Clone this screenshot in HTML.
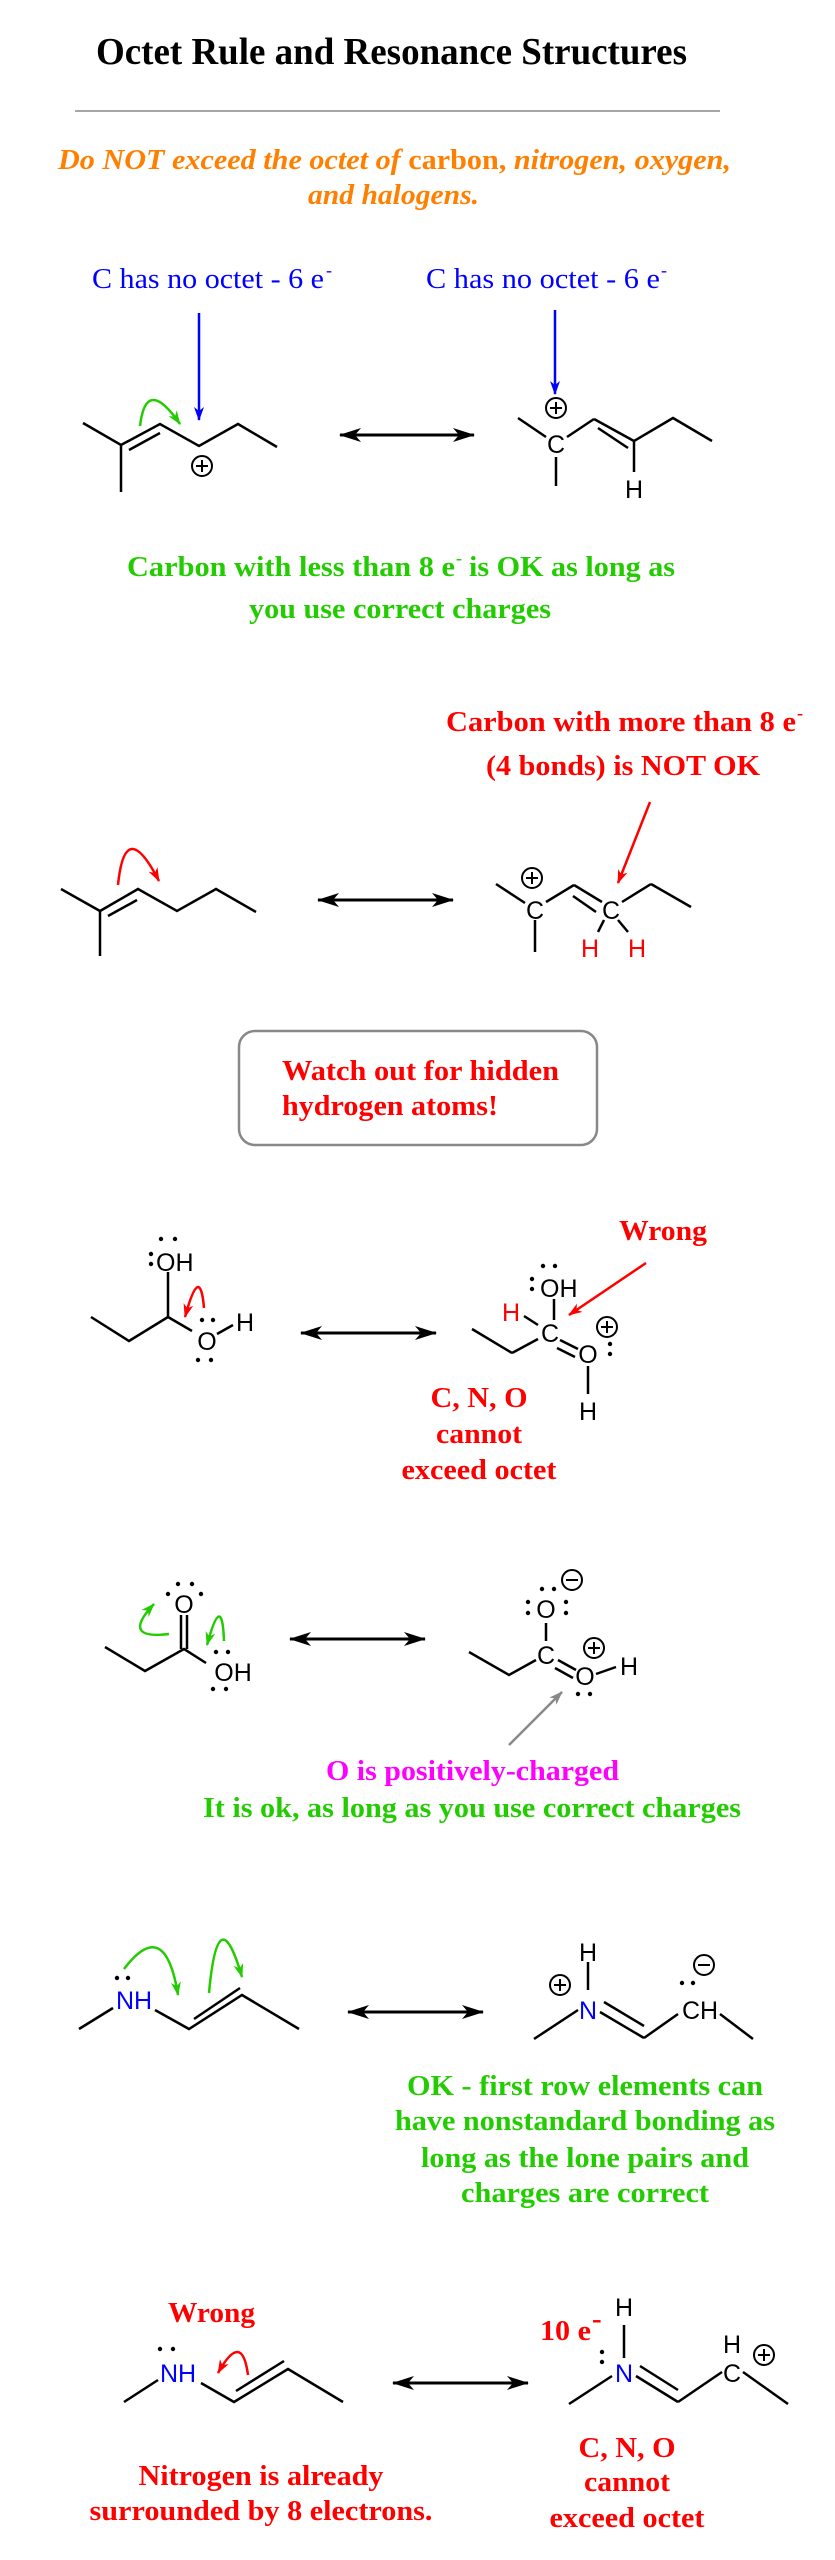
<!DOCTYPE html>
<html><head><meta charset="utf-8"><style>
html,body{margin:0;padding:0;background:#fff}
svg{display:block}
.t{font-family:"Liberation Serif",serif;font-weight:bold;font-size:29px}
.a{font-family:"Liberation Sans",sans-serif;font-size:25px}
</style></head><body>
<svg width="835" height="2560" viewBox="0 0 835 2560" xmlns="http://www.w3.org/2000/svg">
<defs>
<marker id="mb" markerWidth="14" markerHeight="10" refX="13" refY="5" orient="auto" markerUnits="userSpaceOnUse"><path d="M0,0 L14,5 L0,10 L4,5 Z" fill="#00f"/></marker>
<marker id="mr" markerWidth="14" markerHeight="10" refX="13" refY="5" orient="auto" markerUnits="userSpaceOnUse"><path d="M0,0 L14,5 L0,10 L4,5 Z" fill="#f00"/></marker>
<marker id="mg" markerWidth="14" markerHeight="10" refX="13" refY="5" orient="auto" markerUnits="userSpaceOnUse"><path d="M0,0 L14,5 L0,10 L4,5 Z" fill="#22cc00"/></marker>
<marker id="my" markerWidth="14" markerHeight="10" refX="13" refY="5" orient="auto" markerUnits="userSpaceOnUse"><path d="M0,0 L14,5 L0,10 L4,5 Z" fill="#888"/></marker>
<marker id="da" markerWidth="22" markerHeight="14" refX="21" refY="7" orient="auto-start-reverse" markerUnits="userSpaceOnUse"><path d="M0,0 L22,7 L0,14 L6,7 Z" fill="#000"/></marker>
</defs>

<!-- Header -->
<text x="96" y="64" class="t" style="font-size:38px" textLength="591" lengthAdjust="spacingAndGlyphs">Octet Rule and Resonance Structures</text>
<line x1="75" y1="111" x2="720" y2="111" stroke="#888" stroke-width="1.5"/>
<text x="58" y="169" class="t" fill="#ff8000" textLength="673" lengthAdjust="spacingAndGlyphs"><tspan font-style="italic">Do NOT exceed the octet of </tspan><tspan>carbon, </tspan><tspan font-style="italic">nitrogen, oxygen,</tspan></text>
<text x="308" y="204" class="t" fill="#ff8000" font-style="italic" textLength="171" lengthAdjust="spacingAndGlyphs">and halogens.</text>

<!-- Section 1 -->
<g fill="#00f" font-family="Liberation Serif,serif" font-size="29">
<text x="92" y="288" textLength="232" lengthAdjust="spacingAndGlyphs">C has no octet - 6 e</text><text x="326" y="276" font-size="18">-</text>
<text x="426" y="288" textLength="234" lengthAdjust="spacingAndGlyphs">C has no octet - 6 e</text><text x="661" y="276" font-size="18">-</text>
</g>
<line x1="199" y1="313" x2="199" y2="420" stroke="#00f" stroke-width="2.5" marker-end="url(#mb)"/>
<line x1="555" y1="310" x2="555" y2="394" stroke="#00f" stroke-width="2.5" marker-end="url(#mb)"/>
<g stroke="#000" stroke-width="2.5" fill="none">
<polyline points="83,423 121,445 160,424 199,446 238,424 277,447"/>
<line x1="121" y1="445" x2="121" y2="492"/>
<line x1="129" y1="450" x2="160" y2="433"/>
<circle cx="202" cy="466" r="10" stroke-width="2"/>
<line x1="196" y1="466" x2="208" y2="466" stroke-width="2"/><line x1="202" y1="460" x2="202" y2="472" stroke-width="2"/>
<line x1="518" y1="418" x2="546" y2="437"/>
<line x1="556" y1="457" x2="556" y2="486"/>
<line x1="567" y1="437" x2="594" y2="419" />
<polyline points="594,419 634,441 673,418 712,441"/>
<line x1="598" y1="428" x2="628" y2="448"/>
<line x1="634" y1="441" x2="634" y2="472"/>
<circle cx="556" cy="408" r="10" stroke-width="2"/>
<line x1="550" y1="408" x2="562" y2="408" stroke-width="2"/><line x1="556" y1="402" x2="556" y2="414" stroke-width="2"/>
</g>
<text x="556" y="453" class="a" text-anchor="middle">C</text>
<text x="634" y="498" class="a" text-anchor="middle">H</text>
<path d="M140,426 Q146,375 180,424" stroke="#22cc00" stroke-width="2.5" fill="none" marker-end="url(#mg)"/>
<line x1="340" y1="435" x2="474" y2="435" stroke="#000" stroke-width="3" marker-start="url(#da)" marker-end="url(#da)"/>
<g class="t" fill="#22cc00">
<text x="127" y="576" textLength="328" lengthAdjust="spacingAndGlyphs">Carbon with less than 8 e</text><text x="456" y="564" font-size="18">-</text>
<text x="469" y="576" textLength="206" lengthAdjust="spacingAndGlyphs">is OK as long as</text>
<text x="249" y="618" textLength="302" lengthAdjust="spacingAndGlyphs">you use correct charges</text>
</g>

<!-- Section 2 -->
<g class="t" fill="#f00">
<text x="446" y="731" textLength="350" lengthAdjust="spacingAndGlyphs">Carbon with more than 8 e</text><text x="797" y="719" font-size="18">-</text>
<text x="486" y="775" textLength="274" lengthAdjust="spacingAndGlyphs">(4 bonds) is NOT OK</text>
</g>
<line x1="650" y1="802" x2="618" y2="883" stroke="#f00" stroke-width="2.5" marker-end="url(#mr)"/>
<g stroke="#000" stroke-width="2.5" fill="none">
<polyline points="61,889 100,911 138,889 177,911 216,889 256,912"/>
<line x1="100" y1="911" x2="100" y2="956"/>
<line x1="108" y1="916" x2="137" y2="900"/>
<line x1="496" y1="884" x2="525" y2="903"/>
<line x1="535" y1="920" x2="535" y2="952"/>
<line x1="546" y1="902" x2="574" y2="885"/>
<line x1="574" y1="885" x2="602" y2="902"/>
<line x1="573" y1="896" x2="596" y2="912"/>
<line x1="622" y1="902" x2="651" y2="884"/>
<line x1="651" y1="884" x2="691" y2="907"/>
<circle cx="532" cy="878" r="10" stroke-width="2"/>
<line x1="526" y1="878" x2="538" y2="878" stroke-width="2"/><line x1="532" y1="872" x2="532" y2="884" stroke-width="2"/>
<line x1="604" y1="920" x2="598" y2="932"/>
<line x1="618" y1="920" x2="628" y2="932"/>
</g>
<text x="535" y="919" class="a" text-anchor="middle">C</text>
<text x="611" y="919" class="a" text-anchor="middle">C</text>
<text x="590" y="957" class="a" fill="#f00" text-anchor="middle">H</text>
<text x="637" y="957" class="a" fill="#f00" text-anchor="middle">H</text>
<path d="M118,885 Q125,815 159,881" stroke="#f00" stroke-width="2.5" fill="none" marker-end="url(#mr)"/>
<line x1="318" y1="900" x2="453" y2="900" stroke="#000" stroke-width="3" marker-start="url(#da)" marker-end="url(#da)"/>
<rect x="239" y="1031" width="358" height="114" rx="16" fill="#fff" stroke="#888" stroke-width="2.5"/>
<g class="t" fill="#f00">
<text x="282" y="1080" textLength="277" lengthAdjust="spacingAndGlyphs">Watch out for hidden</text>
<text x="282" y="1115" textLength="216" lengthAdjust="spacingAndGlyphs">hydrogen atoms!</text>
</g>

<!-- Section 3 -->
<g stroke="#000" stroke-width="2.5" fill="none">
<polyline points="91,1317 129,1341 168,1317 192,1331"/>
<line x1="168" y1="1317" x2="168" y2="1272"/>
<line x1="217" y1="1334" x2="233" y2="1325"/>
<line x1="472" y1="1329" x2="512" y2="1353" />
<line x1="512" y1="1353" x2="538" y2="1339"/>
<line x1="554" y1="1299" x2="554" y2="1320"/>
<line x1="524" y1="1316" x2="538" y2="1325"/>
<line x1="560" y1="1340" x2="578" y2="1349"/>
<line x1="557" y1="1348" x2="575" y2="1357"/>
<line x1="588" y1="1366" x2="588" y2="1394"/>
<circle cx="607" cy="1327" r="10" stroke-width="2"/>
<line x1="601" y1="1327" x2="613" y2="1327" stroke-width="2"/><line x1="607" y1="1321" x2="607" y2="1333" stroke-width="2"/>
</g>
<text x="156" y="1271" class="a">OH</text>
<text x="207" y="1350" class="a" text-anchor="middle">O</text>
<text x="245" y="1331" class="a" text-anchor="middle">H</text>
<g fill="#000">
<circle cx="161" cy="1239" r="2.2"/><circle cx="175" cy="1239" r="2.2"/><circle cx="151" cy="1254" r="2.2"/><circle cx="151" cy="1264" r="2.2"/>
<circle cx="202" cy="1320" r="2.2"/><circle cx="213" cy="1320" r="2.2"/><circle cx="198" cy="1360" r="2.2"/><circle cx="211" cy="1360" r="2.2"/>
<circle cx="543" cy="1266" r="2.2"/><circle cx="555" cy="1266" r="2.2"/><circle cx="532" cy="1279" r="2.2"/><circle cx="532" cy="1289" r="2.2"/>
<circle cx="610" cy="1344" r="2.2"/><circle cx="610" cy="1354" r="2.2"/>
</g>
<path d="M204,1308 Q200,1262 185,1317" stroke="#f00" stroke-width="2.5" fill="none" marker-end="url(#mr)"/>
<line x1="301" y1="1333" x2="436" y2="1333" stroke="#000" stroke-width="3" marker-start="url(#da)" marker-end="url(#da)"/>
<text x="540" y="1297" class="a">OH</text>
<text x="550" y="1342" class="a" text-anchor="middle">C</text>
<text x="511" y="1321" class="a" fill="#f00" text-anchor="middle">H</text>
<text x="588" y="1363" class="a" text-anchor="middle">O</text>
<text x="588" y="1420" class="a" text-anchor="middle">H</text>
<text x="663" y="1240" class="t" fill="#f00" text-anchor="middle" textLength="88" lengthAdjust="spacingAndGlyphs">Wrong</text>
<line x1="646" y1="1263" x2="569" y2="1315" stroke="#f00" stroke-width="2.5" marker-end="url(#mr)"/>
<g class="t" fill="#f00" text-anchor="middle">
<text x="479" y="1407" textLength="97" lengthAdjust="spacingAndGlyphs">C, N, O</text>
<text x="479" y="1443" textLength="86" lengthAdjust="spacingAndGlyphs">cannot</text>
<text x="479" y="1479" textLength="155" lengthAdjust="spacingAndGlyphs">exceed octet</text>
</g>

<!-- Section 4 -->
<g stroke="#000" stroke-width="2.5" fill="none">
<polyline points="105,1647 145,1671 184,1649 206,1663"/>
<line x1="181" y1="1649" x2="181" y2="1615"/><line x1="187" y1="1649" x2="187" y2="1615"/>
<polyline points="469,1652 509,1675 536,1660"/>
<line x1="546" y1="1623" x2="546" y2="1641"/>
<line x1="558" y1="1660" x2="576" y2="1670"/>
<line x1="555" y1="1668" x2="573" y2="1678"/>
<line x1="596" y1="1674" x2="616" y2="1667"/>
<circle cx="572" cy="1580" r="10" stroke-width="2"/>
<line x1="566" y1="1580" x2="578" y2="1580" stroke-width="2"/>
<circle cx="594" cy="1648" r="10" stroke-width="2"/>
<line x1="588" y1="1648" x2="600" y2="1648" stroke-width="2"/><line x1="594" y1="1642" x2="594" y2="1654" stroke-width="2"/>
</g>
<text x="184" y="1613" class="a" text-anchor="middle">O</text>
<text x="233" y="1681" class="a" text-anchor="middle">OH</text>
<text x="546" y="1618" class="a" text-anchor="middle">O</text>
<text x="546" y="1664" class="a" text-anchor="middle">C</text>
<text x="585" y="1685" class="a" text-anchor="middle">O</text>
<text x="629" y="1675" class="a" text-anchor="middle">H</text>
<g fill="#000">
<circle cx="168" cy="1594" r="2.2"/><circle cx="178" cy="1584" r="2.2"/><circle cx="192" cy="1584" r="2.2"/><circle cx="201" cy="1594" r="2.2"/>
<circle cx="216" cy="1652" r="2.2"/><circle cx="228" cy="1652" r="2.2"/><circle cx="213" cy="1689" r="2.2"/><circle cx="226" cy="1689" r="2.2"/>
<circle cx="542" cy="1589" r="2.2"/><circle cx="554" cy="1589" r="2.2"/><circle cx="528" cy="1602" r="2.2"/><circle cx="528" cy="1613" r="2.2"/>
<circle cx="566" cy="1602" r="2.2"/><circle cx="566" cy="1613" r="2.2"/>
<circle cx="578" cy="1694" r="2.2"/><circle cx="590" cy="1694" r="2.2"/>
</g>
<path d="M169,1634 Q120,1640 154,1604" stroke="#22cc00" stroke-width="2.5" fill="none" marker-end="url(#mg)"/>
<path d="M224,1641 Q222,1590 207,1645" stroke="#22cc00" stroke-width="2.5" fill="none" marker-end="url(#mg)"/>
<line x1="290" y1="1639" x2="425" y2="1639" stroke="#000" stroke-width="3" marker-start="url(#da)" marker-end="url(#da)"/>
<line x1="509" y1="1745" x2="562" y2="1692" stroke="#888" stroke-width="2.5" marker-end="url(#my)"/>
<text x="326" y="1780" class="t" fill="#f0f" textLength="293" lengthAdjust="spacingAndGlyphs">O is positively-charged</text>
<text x="203" y="1817" class="t" fill="#22cc00" textLength="538" lengthAdjust="spacingAndGlyphs">It is ok, as long as you use correct charges</text>

<!-- Section 5 -->
<g stroke="#000" stroke-width="2.5" fill="none">
<line x1="79" y1="2029" x2="113" y2="2008"/>
<polyline points="155,2010 189,2029 242,1995 299,2029"/>
<line x1="194" y1="2019" x2="240" y2="1988"/>
<line x1="534" y1="2039" x2="578" y2="2010"/>
<line x1="588" y1="1962" x2="588" y2="1990"/>
<line x1="600" y1="2012" x2="644" y2="2038"/>
<line x1="604" y1="2002" x2="644" y2="2026" />
<line x1="644" y1="2038" x2="678" y2="2014"/>
<line x1="720" y1="2014" x2="753" y2="2039"/>
<circle cx="560" cy="1985" r="10" stroke-width="2"/>
<line x1="554" y1="1985" x2="566" y2="1985" stroke-width="2"/><line x1="560" y1="1979" x2="560" y2="1991" stroke-width="2"/>
<circle cx="704" cy="1965" r="10" stroke-width="2"/>
<line x1="698" y1="1965" x2="710" y2="1965" stroke-width="2"/>
</g>
<text x="134" y="2009" class="a" fill="#00f" text-anchor="middle">NH</text>
<circle cx="117" cy="1978" r="2.2"/><circle cx="128" cy="1978" r="2.2"/>
<text x="588" y="1961" class="a" text-anchor="middle">H</text>
<text x="588" y="2019" class="a" fill="#00f" text-anchor="middle">N</text>
<text x="700" y="2019" class="a" text-anchor="middle">CH</text>
<circle cx="682" cy="1983" r="2.2"/><circle cx="693" cy="1983" r="2.2"/>
<path d="M124,1969 Q165,1915 178,1995" stroke="#22cc00" stroke-width="2.5" fill="none" marker-end="url(#mg)"/>
<path d="M209,1993 Q218,1895 242,1977" stroke="#22cc00" stroke-width="2.5" fill="none" marker-end="url(#mg)"/>
<line x1="348" y1="2012" x2="483" y2="2012" stroke="#000" stroke-width="3" marker-start="url(#da)" marker-end="url(#da)"/>
<g class="t" fill="#22cc00" text-anchor="middle">
<text x="585" y="2095" textLength="356" lengthAdjust="spacingAndGlyphs">OK - first row elements can</text>
<text x="585" y="2130" textLength="380" lengthAdjust="spacingAndGlyphs">have nonstandard bonding as</text>
<text x="585" y="2167" textLength="328" lengthAdjust="spacingAndGlyphs">long as the lone pairs and</text>
<text x="585" y="2202" textLength="248" lengthAdjust="spacingAndGlyphs">charges are correct</text>
</g>

<!-- Section 6 -->
<text x="168" y="2322" class="t" fill="#f00" textLength="87" lengthAdjust="spacingAndGlyphs">Wrong</text>
<g stroke="#000" stroke-width="2.5" fill="none">
<line x1="124" y1="2402" x2="158" y2="2380"/>
<polyline points="201,2383 234,2402 288,2369 343,2402"/>
<line x1="236" y1="2391" x2="284" y2="2361"/>
<line x1="569" y1="2404" x2="612" y2="2376"/>
<line x1="624" y1="2325" x2="624" y2="2358"/>
<line x1="636" y1="2376" x2="678" y2="2402"/>
<line x1="640" y1="2366" x2="678" y2="2390"/>
<line x1="678" y1="2402" x2="722" y2="2372"/>
<line x1="743" y1="2372" x2="788" y2="2404"/>
<circle cx="764" cy="2355" r="10" stroke-width="2"/>
<line x1="758" y1="2355" x2="770" y2="2355" stroke-width="2"/><line x1="764" y1="2349" x2="764" y2="2361" stroke-width="2"/>
</g>
<text x="178" y="2382" class="a" fill="#00f" text-anchor="middle">NH</text>
<circle cx="160" cy="2349" r="2.2"/><circle cx="173" cy="2349" r="2.2"/>
<path d="M248,2375 Q242,2330 218,2373" stroke="#f00" stroke-width="2.5" fill="none" marker-end="url(#mr)"/>
<line x1="393" y1="2383" x2="528" y2="2383" stroke="#000" stroke-width="3" marker-start="url(#da)" marker-end="url(#da)"/>
<text x="624" y="2316" class="a" text-anchor="middle">H</text>
<text x="624" y="2382" class="a" fill="#00f" text-anchor="middle">N</text>
<circle cx="602" cy="2352" r="2.2"/><circle cx="602" cy="2362" r="2.2"/>
<text x="732" y="2353" class="a" text-anchor="middle">H</text>
<text x="732" y="2382" class="a" text-anchor="middle">C</text>
<text x="540" y="2340" class="t" fill="#f00" textLength="51" lengthAdjust="spacingAndGlyphs">10 e</text><text x="592" y="2328" class="t" fill="#f00" font-size="18">-</text>
<g class="t" fill="#f00" text-anchor="middle">
<text x="261" y="2485" textLength="245" lengthAdjust="spacingAndGlyphs">Nitrogen is already</text>
<text x="261" y="2520" textLength="343" lengthAdjust="spacingAndGlyphs">surrounded by 8 electrons.</text>
<text x="627" y="2457" textLength="97" lengthAdjust="spacingAndGlyphs">C, N, O</text>
<text x="627" y="2491" textLength="86" lengthAdjust="spacingAndGlyphs">cannot</text>
<text x="627" y="2527" textLength="155" lengthAdjust="spacingAndGlyphs">exceed octet</text>
</g>
</svg>
</body></html>
